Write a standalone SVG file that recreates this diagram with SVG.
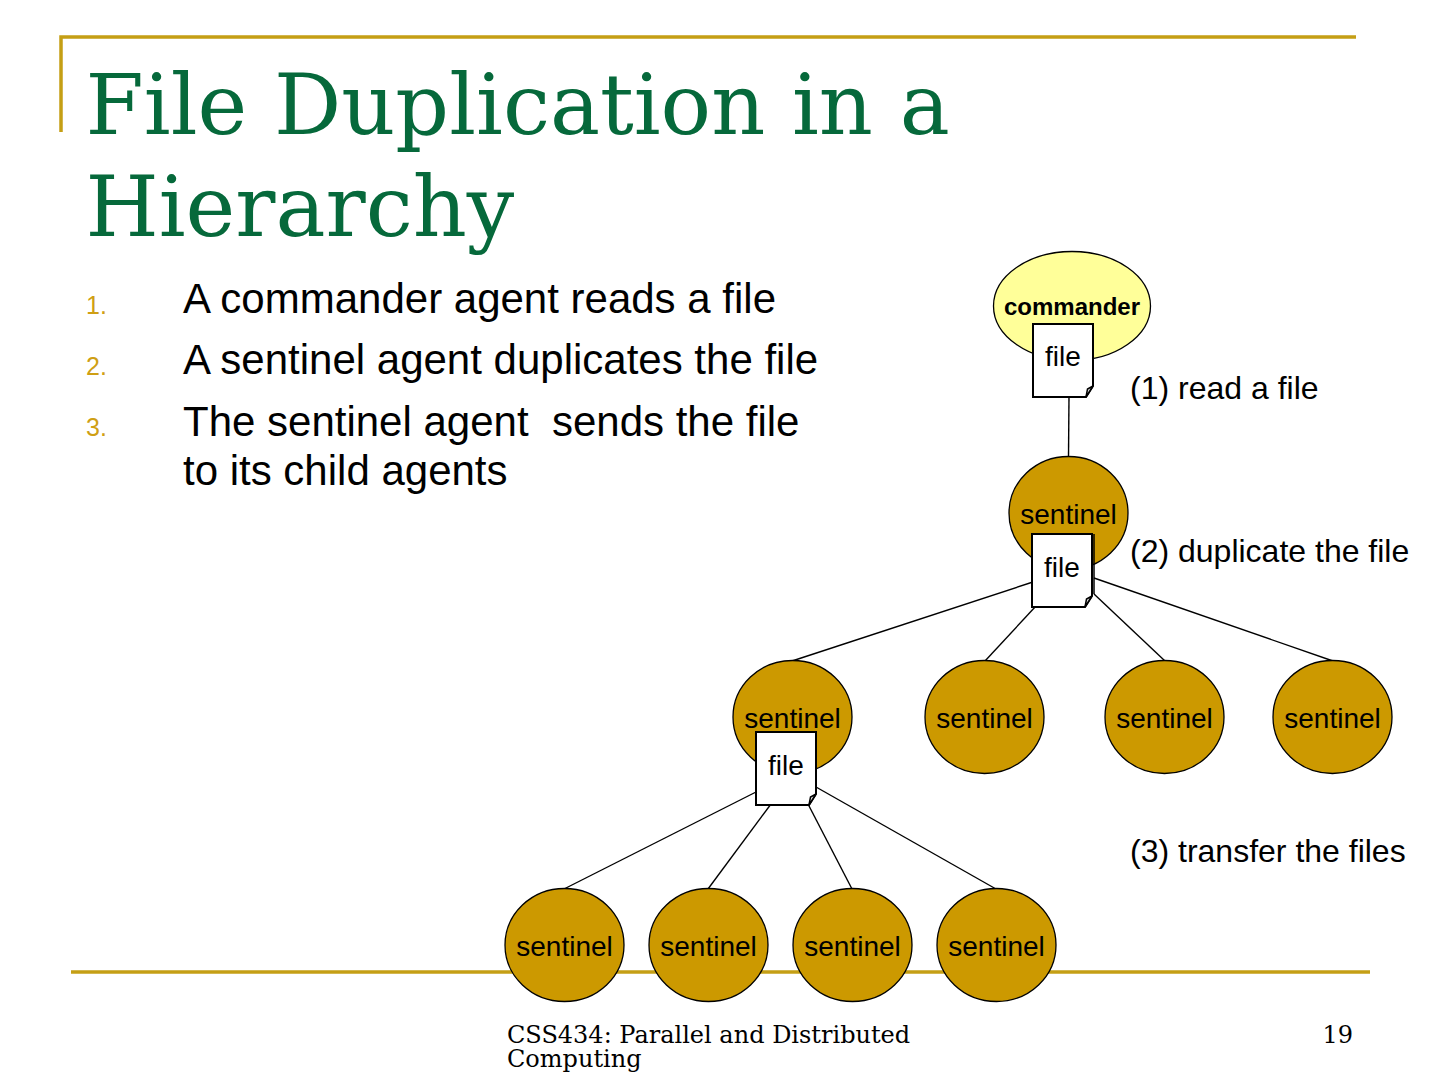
<svg xmlns="http://www.w3.org/2000/svg" width="1440" height="1080" viewBox="0 0 1440 1080">
<style>
.rule{fill:none;stroke:#c59f15;stroke-width:3.500}
.title{font-family:"DejaVu Serif",serif;font-size:84px;fill:#06693b}
.body{font-family:"Liberation Sans",Arial,sans-serif;font-size:42px;fill:#000;white-space:pre}
.num{font-family:"Liberation Sans",Arial,sans-serif;font-size:25px;fill:#cf9f14}
.lbl{font-family:"Liberation Sans",Arial,sans-serif;font-size:28px;fill:#000;text-anchor:middle}
.cap{font-family:"Liberation Sans",Arial,sans-serif;font-size:32px;fill:#000}
.foot{font-family:"DejaVu Serif",serif;font-size:24px;fill:#000}
.agent{fill:#cc9900;stroke:#000;stroke-width:1.300}
.doc{fill:#fff;stroke:#000;stroke-width:2}
.fold{fill:#ddd;stroke:#000;stroke-width:1.500}
.conn{fill:none;stroke:#000;stroke-width:1.400}
</style>
<defs>
<g id="doc">
<path class="doc" d="M0 0H60V62L53 73H0Z"/>
<path class="fold" d="M53 73L54.500 65L60 62Z"/>
</g>
<ellipse id="ag" class="agent" cx="0" cy="0" rx="59.500" ry="56.500"/>
</defs>
<path class="rule" d="M61 132V37H1356"/>
<path class="rule" d="M71 972H1370"/>
<text class="title" x="85.500" y="134">File Duplication in a</text>
<text class="title" x="85.500" y="236">Hierarchy</text>
<g id="list">
<text class="num" x="86" y="314">1.</text>
<text class="body" x="183" y="313">A commander agent reads a file</text>
<text class="num" x="86" y="375">2.</text>
<text class="body" x="183" y="374">A sentinel agent duplicates the file</text>
<text class="num" x="86" y="436">3.</text>
<text class="body" x="183" y="436">The sentinel agent  sends the file</text>
<text class="body" x="183" y="485">to its child agents</text>
</g>
<g id="connectors">
<path class="conn" d="M1069 396L1068.500 457"/>
<path class="conn" d="M1036 581L792 661"/>
<path class="conn" d="M1036 606L985 661"/>
<path class="conn" d="M1094 594L1165 661"/>
<path class="conn" d="M1094 578L1333 661"/>
<path class="conn" d="M758 791L564 889"/>
<path class="conn" d="M771 804L708 889"/>
<path class="conn" d="M808 804L852 889"/>
<path class="conn" d="M816 787L996 889"/>
</g>
<g id="commander">
<ellipse cx="1072" cy="306" rx="78.500" ry="54.500" fill="#ffff99" stroke="#000" stroke-width="1.300"/>
<text class="lbl" x="1072" y="315" font-weight="700" style="font-size:24px">commander</text>
</g>
<g id="file1"><use href="#doc" x="1033" y="324"/><text class="lbl" x="1063" y="366">file</text></g>
<g id="sentinel-top"><use href="#ag" x="1068.500" y="513"/><text class="lbl" x="1068.500" y="524">sentinel</text></g>
<g id="file2"><use href="#doc" x="1032" y="534"/><path d="M1094 534V594" stroke="#000" stroke-width="1.500" fill="none"/><text class="lbl" x="1062" y="577">file</text></g>
<g id="sentinel-a"><use href="#ag" x="792.500" y="717"/><text class="lbl" x="792.500" y="728">sentinel</text></g>
<g id="sentinel-b"><use href="#ag" x="984.500" y="717"/><text class="lbl" x="984.500" y="728">sentinel</text></g>
<g id="sentinel-c"><use href="#ag" x="1164.500" y="717"/><text class="lbl" x="1164.500" y="728">sentinel</text></g>
<g id="sentinel-d"><use href="#ag" x="1332.500" y="717"/><text class="lbl" x="1332.500" y="728">sentinel</text></g>
<g id="file3"><use href="#doc" x="756" y="732"/><text class="lbl" x="786" y="775">file</text></g>
<g id="sentinel-e"><use href="#ag" x="564.500" y="945"/><text class="lbl" x="564.500" y="956">sentinel</text></g>
<g id="sentinel-f"><use href="#ag" x="708.500" y="945"/><text class="lbl" x="708.500" y="956">sentinel</text></g>
<g id="sentinel-g"><use href="#ag" x="852.500" y="945"/><text class="lbl" x="852.500" y="956">sentinel</text></g>
<g id="sentinel-h"><use href="#ag" x="996.500" y="945"/><text class="lbl" x="996.500" y="956">sentinel</text></g>
<text class="cap" x="1130" y="399">(1) read a file</text>
<text class="cap" x="1130" y="562">(2) duplicate the file</text>
<text class="cap" x="1130" y="862">(3) transfer the files</text>
<text class="foot" x="507" y="1043">CSS434: Parallel and Distributed</text>
<text class="foot" x="507" y="1067">Computing</text>
<text class="foot" x="1353" y="1043" text-anchor="end">19</text>
</svg>
